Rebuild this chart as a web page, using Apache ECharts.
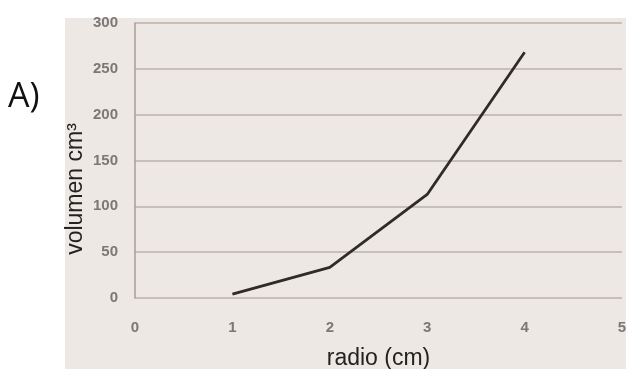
<!DOCTYPE html>
<html>
<head>
<meta charset="utf-8">
<script src="https://cdn.jsdelivr.net/npm/echarts@6/dist/echarts.min.js"></script>
<style>html,body{margin:0;padding:0;background:#fff;}#c{width:627px;height:369px;}</style>
</head>
<body>
<div id="c"></div>
<script>
const radio = [1, 2, 3, 4];
const volumen = [4.2, 33.5, 113, 268];
const xTicks = [0, 1, 2, 3, 4, 5];
const yTicks = [0, 50, 100, 150, 200, 250, 300];
const xName = 'radio (cm)';
const yName = 'volumen cm³';

const chart = echarts.init(document.getElementById('c'));
chart.setOption({
  animation: false,
  backgroundColor: '#ffffff',
  graphic: [
    { type: 'rect', z: -10, shape: { x: 65, y: 18, width: 561, height: 351 }, style: { fill: '#ede8e4' } },
    { type: 'text', x: 8, y: 97, style: { text: 'A)', font: '34px "Open Sans", "DejaVu Sans", sans-serif', fill: '#111', verticalAlign: 'middle', align: 'left' } },
    { type: 'text', x: 76, y: 189, rotation: Math.PI / 2, style: { text: yName, font: '23px "Liberation Sans", Arial, sans-serif', fill: '#222', verticalAlign: 'middle', align: 'center' } }
  ],
  grid: { left: 135, right: 5, top: 23, bottom: 71, outerBoundsMode: 'none', containLabel: false },
  xAxis: {
    type: 'value', min: xTicks[0], max: xTicks[xTicks.length - 1], interval: 1,
    name: xName, nameLocation: 'middle', nameGap: 49,
    nameTextStyle: { fontSize: 23, color: '#222', fontFamily: '"Liberation Sans", Arial, sans-serif' },
    axisLine: { show: false }, axisTick: { show: false }, splitLine: { show: false },
    axisLabel: { margin: 22, fontSize: 15, fontWeight: 'bold', color: '#7d7775', fontFamily: '"Liberation Sans", Arial, sans-serif' }
  },
  yAxis: {
    type: 'value', min: yTicks[0], max: yTicks[yTicks.length - 1], interval: 50,
    axisLine: { show: true, lineStyle: { color: '#a89e99', width: 1.5 } }, axisTick: { show: false },
    splitLine: { show: true, lineStyle: { color: '#bdb2ad', width: 1.5 } },
    axisLabel: { margin: 17, fontSize: 15, fontWeight: 'bold', color: '#7d7775', fontFamily: '"Liberation Sans", Arial, sans-serif' }
  },
  series: [{
    type: 'line', data: radio.map((r, i) => [r, volumen[i]]),
    showSymbol: false, symbol: 'none', smooth: false,
    lineStyle: { color: '#2e2b2a', width: 2.8 }
  }]
});
</script>
</body>
</html>
